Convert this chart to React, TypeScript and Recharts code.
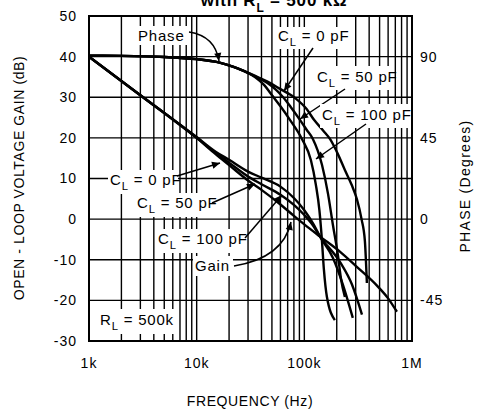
import React from 'react';
import { LineChart, Line, XAxis, YAxis, CartesianGrid, ReferenceLine, ReferenceArea } from 'recharts';

// [frequency Hz, gain dB]
const gainCL0: [number, number][] = [
  [1e3, 40], [3e3, 30.5], [1e4, 20], [1.5e4, 16], [2e4, 13.3], [3e4, 9.5], [4e4, 7.2],
  [6e4, 3.6], [8e4, 0.8], [1e5, -1.3], [1.4e5, -4.3], [2.14e5, -8], [3e5, -11.5],
  [4.82e5, -16.6], [6e5, -19.5], [7.24e5, -22.8],
];
const gainCL50: [number, number][] = [
  [1e3, 40], [3e3, 30.5], [1e4, 20], [1.5e4, 16.3], [2e4, 13.9], [3e4, 10.5], [4e4, 8.6],
  [6e4, 6], [8e4, 3.5], [1e5, 1], [1.2e5, -1.5], [1.4e5, -4.3], [2.14e5, -10.5],
  [2.77e5, -16.1], [3.43e5, -23.5],
];
const gainCL100: [number, number][] = [
  [1e3, 40], [3e3, 30.5], [1e4, 20.2], [1.5e4, 16.6], [2e4, 14.6], [3e4, 11.7], [4e4, 10.2],
  [6e4, 8], [8e4, 5.2], [1e5, 2.2], [1.2e5, -1], [1.4e5, -4.3], [1.84e5, -9.5],
  [2.28e5, -16.1], [2.82e5, -24.3],
];

// [frequency Hz, phase degrees]
const phaseStart: [number, number][] = [
  [1e3, 90.5], [2e3, 90.4], [5e3, 89.8], [1e4, 88.6], [1.6e4, 86.8], [2.2e4, 84.3], [2.8e4, 81.8],
];
const phaseCL0: [number, number][] = [
  [3.5e4, 79.3], [4.5e4, 76.3], [6e4, 72], [8.2e4, 67.1], [1.05e5, 61], [1.23e5, 55],
  [1.5e5, 49], [1.73e5, 44.4], [2.05e5, 36], [2.38e5, 27.2], [2.75e5, 19], [3.08e5, 11],
  [3.4e5, 0], [3.65e5, -12], [3.81e5, -35.4],
];
const phaseCL50: [number, number][] = [
  [3.5e4, 79], [4.5e4, 75.5], [5.5e4, 71.5], [6.3e4, 67.8], [7.5e4, 62], [9.1e4, 55],
  [1.05e5, 49.5], [1.2e5, 44.4], [1.46e5, 30], [1.66e5, 14], [1.84e5, -3], [2.05e5, -19.9],
  [2.19e5, -33], [2.38e5, -43.1],
];
const phaseCL100: [number, number][] = [
  [3.5e4, 78.6], [4.2e4, 74.5], [5.1e4, 68], [6e4, 62.5], [7.35e4, 55], [9.5e4, 44.4],
  [1.15e5, 32.7], [1.28e5, 19], [1.38e5, 5], [1.45e5, -10], [1.52e5, -28], [1.62e5, -43],
  [1.92e5, -55.9],
];

const gainTicks = [-30, -20, -10, 0, 10, 20, 30, 40, 50];
const phaseTicks = [-45, 0, 45, 90];
const freqTicks = [1e3, 1e4, 1e5, 1e6];
const freqLabels = ['1k', '10k', '100k', '1M'];

const gridFreqs: number[] = [];
[1e3, 1e4, 1e5].forEach((d) => {
  for (let m = 2; m <= 10; m++) gridFreqs.push(d * m);
});

const toRows = (pts: [number, number][]) => pts.map(([f, v]) => ({ f, v }));

const FONT = '"Liberation Sans", Arial, sans-serif';

const Sub = ({ x, y, pre, sub, post, size = 15 }: any) => (
  <text x={x} y={y} fontSize={size} fontFamily={FONT} letterSpacing={0.8} fill="#000">
    {pre}
    <tspan fontSize={size * 0.75} dy={5}>{sub}</tspan>
    <tspan dy={-5}>{post}</tspan>
  </text>
);

const Box = ({ x, y, w, h }: any) => <rect x={x} y={y} width={w} height={h} fill="#fff" />;

const Overlay = () => (
  <svg width={479} height={413} style={{ position: 'absolute', left: 0, top: 0, pointerEvents: 'none' }}>
    <defs>
      <marker id="ah" viewBox="0 0 10 10" refX="10" refY="5" markerWidth="10" markerHeight="8"
        markerUnits="userSpaceOnUse" orient="auto">
        <path d="M0,0.5 L10,5 L0,9.5 z" fill="#000" />
      </marker>
    </defs>
    {/* title, cut at top as in the source figure */}
    <text x={274} y={6} textAnchor="middle" fontSize={17} fontWeight="bold" fontFamily={FONT} letterSpacing={0.8}>
      with R<tspan fontSize={12} dy={6}>L</tspan><tspan dy={-6}> = 500 kΩ</tspan>
    </text>

    {/* phase annotations */}
    <Box x={135} y={26} w={53} h={19} />
    <text x={138} y={41} fontSize={15} fontFamily={FONT} letterSpacing={0.8}>Phase</text>
    <path d="M189,32 Q215,36 219,61" fill="none" stroke="#000" strokeWidth={1.5} markerEnd="url(#ah)" />

    <Box x={276} y={27} w={73} h={22} />
    <Sub x={278} y={41} pre="C" sub="L" post=" = 0 pF" />
    <path d="M313,48 L284,91" stroke="#000" strokeWidth={1.5} markerEnd="url(#ah)" />

    <Box x={315} y={66} w={78} h={24} />
    <Sub x={317} y={82} pre="C" sub="L" post=" = 50 pF" />
    <path d="M345,89 L300,119" stroke="#000" strokeWidth={1.5} markerEnd="url(#ah)" />

    <Box x={320} y={104} w={90} h={24} />
    <Sub x={322} y={120} pre="C" sub="L" post=" = 100 pF" />
    <path d="M366,124 L316,159" stroke="#000" strokeWidth={1.5} markerEnd="url(#ah)" />

    {/* gain annotations */}
    <Box x={108} y={170} w={70} h={24} />
    <Sub x={110} y={185} pre="C" sub="L" post=" = 0 pF" />
    <path d="M177,176 L220,163" stroke="#000" strokeWidth={1.5} markerEnd="url(#ah)" />

    <Box x={135} y={193} w={78} h={24} />
    <Sub x={137} y={208} pre="C" sub="L" post=" = 50 pF" />
    <path d="M212,203 L255,184" stroke="#000" strokeWidth={1.5} markerEnd="url(#ah)" />

    <Box x={156} y={229} w={89} h={24} />
    <Sub x={158} y={244} pre="C" sub="L" post=" = 100 pF" />
    <path d="M245,238 L282,195" stroke="#000" strokeWidth={1.5} markerEnd="url(#ah)" />

    <Box x={193} y={256} w={40} h={20} />
    <text x={195} y={271} fontSize={15} fontFamily={FONT} letterSpacing={0.8}>Gain</text>
    <path d="M234,266 Q283,258 291,222" fill="none" stroke="#000" strokeWidth={1.5} markerEnd="url(#ah)" />

    <Box x={98} y={309} w={78} h={25} />
    <Sub x={100} y={325} pre="R" sub="L" post=" = 500k" />

    {/* axis titles */}
    <text x={250} y={406} textAnchor="middle" fontSize={14} fontFamily={FONT} letterSpacing={0.6}>FREQUENCY (Hz)</text>
    <text x={0} y={0} transform="translate(24,178) rotate(-90)" textAnchor="middle" fontSize={14}
      fontFamily={FONT} letterSpacing={0.6}>OPEN - LOOP VOLTAGE GAIN (dB)</text>
    <text x={0} y={0} transform="translate(470,186) rotate(-90)" textAnchor="middle" fontSize={14}
      fontFamily={FONT} letterSpacing={1.3}>PHASE (Degrees)</text>
  </svg>
);

const tickStyle = { fontSize: 14, fontFamily: FONT, fill: '#000', letterSpacing: 1 };

export default function App() {
  return (
    <div style={{ position: 'absolute', left: 0, top: 0, width: 479, height: 413, background: '#fff' }}>
      <LineChart width={479} height={413} margin={{ top: 16, right: 17, bottom: 42, left: 29 }}>
        <XAxis
          dataKey="f"
          type="number"
          scale="log"
          domain={[1e3, 1e6]}
          ticks={freqTicks}
          tickFormatter={(v: number) => freqLabels[freqTicks.indexOf(v)] ?? ''}
          allowDataOverflow
          height={30}
          axisLine={false}
          tickLine={false}
          tickSize={8}
          tickMargin={9}
          tick={tickStyle}
        />
        <YAxis
          yAxisId="gain"
          domain={[-30, 50]}
          ticks={gainTicks}
          width={60}
          axisLine={false}
          tickLine={false}
          tickSize={6}
          tickMargin={6}
          tick={tickStyle}
        />
        <YAxis
          yAxisId="phase"
          orientation="right"
          domain={[-67.5, 112.5]}
          ticks={phaseTicks}
          width={50}
          axisLine={false}
          tickLine={false}
          tickSize={4}
          tickMargin={4}
          tick={tickStyle}
        />
        <CartesianGrid yAxisId="gain" vertical={false} stroke="#000" strokeWidth={1.4} />
        {gridFreqs.map((f) => (
          <ReferenceLine key={f} x={f} yAxisId="gain" stroke="#000" strokeWidth={1.4} />
        ))}
        <ReferenceArea x1={1e3} x2={1e6} y1={-30} y2={50} yAxisId="gain" fill="none" stroke="#000" strokeWidth={2} />

        <Line data={toRows(gainCL0)} dataKey="v" yAxisId="gain" type="monotone" stroke="#000" strokeWidth={2.4} dot={false} isAnimationActive={false} />
        <Line data={toRows(gainCL50)} dataKey="v" yAxisId="gain" type="monotone" stroke="#000" strokeWidth={2.4} dot={false} isAnimationActive={false} />
        <Line data={toRows(gainCL100)} dataKey="v" yAxisId="gain" type="monotone" stroke="#000" strokeWidth={2.4} dot={false} isAnimationActive={false} />
        <Line data={toRows([...phaseStart, ...phaseCL0])} dataKey="v" yAxisId="phase" type="monotone" stroke="#000" strokeWidth={2.4} dot={false} isAnimationActive={false} />
        <Line data={toRows([...phaseStart, ...phaseCL50])} dataKey="v" yAxisId="phase" type="monotone" stroke="#000" strokeWidth={2.4} dot={false} isAnimationActive={false} />
        <Line data={toRows([...phaseStart, ...phaseCL100])} dataKey="v" yAxisId="phase" type="monotone" stroke="#000" strokeWidth={2.4} dot={false} isAnimationActive={false} />
      </LineChart>
      <Overlay />
    </div>
  );
}
